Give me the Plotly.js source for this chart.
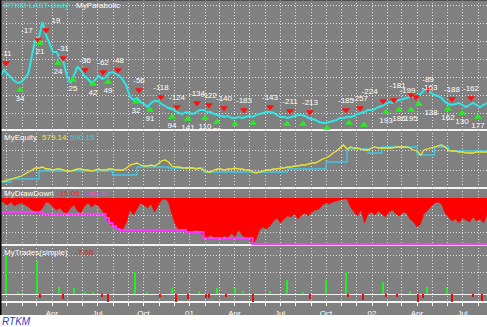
<!DOCTYPE html>
<html><head><meta charset="utf-8">
<script src="https://cdn.plot.ly/plotly-3.0.1.min.js"></script>
<style>html,body{margin:0;padding:0;background:#fff}#chart{width:487px;height:327px}</style>
</head><body><div id="chart"></div>
<script>
// ---------- DATA ----------
// weekly series start and step
const weekStart = '1999-12-20';
const weekStepMs = 7 * 86400000;

// RTKM price (weekly closes, chart units)
const price = [54,60,56,52,49,47,48,52,57,75,
  91,93,108,95,86,78,78,72,68,54,
  47,55,63,60,54,51,47,50,54,51,
  52,57,58,56,54,50,44,33,30,32,
  28,26,23,27,29,29,26,24,22,21,
  19,17,16,18,17,16,18,20,20,18,
  18,16,15,14,13,14,12,12,13,12,
  13,14,13,15,16,17,18,18,17,15,
  13,13,12,13,14,15,15,14,12,11,
  10,8,7,7,8,9,10,12,12,13,
  13,14,16,17,18,20,20,21,23,24,
  26,28,27,29,30,31,32,33,33,34,
  36,40,41,37,35,34,32,28,26,25,
  26,27,25,23,25,27,25,23,25,27];

// Parabolic sell signals (red) and buy signals (green)
const sellDates = ['1999-12-31','2000-03-04','2000-03-20','2000-04-23','2000-06-06','2000-07-12','2000-08-11','2000-09-22',
  '2000-11-05','2000-12-07','2001-01-16','2001-02-09','2001-03-11','2001-04-20','2001-06-11','2001-07-21','2001-08-30',
  '2001-11-10','2001-12-08','2002-01-23','2002-02-14','2002-03-20','2002-03-30','2002-04-23','2002-06-10','2002-07-18'];
const sellLevels = [67,90,100,72,60,58,60,40,33,23,27,25,22,20,23,19,18,20,22,29,30,35,33,41,31,32];
const sellLabels = ['-11','-17','19','-31','-36','-62','-48','-56','-118','-124','-134','-122','-140','-183','-143','-211','-213',
  '-185','-257','-224','-199','-181','-163','-89','-188','-162'];

const buyDates = ['2000-01-28','2000-03-08','2000-04-13','2000-05-13','2000-06-22','2000-07-22','2000-09-16','2000-10-14',
  '2000-11-27','2000-12-29','2001-02-01','2001-02-25','2001-04-02','2001-05-08','2001-07-15','2001-08-16','2001-10-03',
  '2001-11-16','2001-12-16','2002-01-29','2002-02-24','2002-03-20','2002-04-05','2002-06-02','2002-06-30','2002-08-01'];
const buyLevels = [40,87,67,50,46,48,28,20,13,11,12,8,6,7,6,6,2,7,5,18,20,20,26,21,17,13];
const buyLabels = ['34','21','24','25','42','49','32','91','94','141','110','70','','','','','','','219','193','186','195','138','162','130','177'];

// Equity (weekly) and closed-trade equity (steps)
const equity = [280,290,300,310,320,330,340,360,380,400,
  420,420,430,410,410,400,410,410,400,390,
  390,400,410,410,400,400,390,400,410,400,
  400,410,410,400,400,400,420,450,460,470,
  450,440,440,450,440,460,490,500,480,440,
  430,430,420,420,420,420,410,420,400,380,
  380,400,410,410,400,410,410,420,410,410,
  400,400,380,370,380,390,400,400,410,410,
  420,420,430,430,440,440,450,450,460,470,
  470,490,510,520,540,570,590,620,650,610,
  630,620,620,610,600,600,620,630,620,620,
  620,620,620,630,630,630,630,620,600,590,
  550,600,610,620,630,640,650,630,600,590,
  590,580,580,570,570,570,580,580,580,579.14];
const closedDates = ['1999-12-20','2000-01-10','2000-03-06','2000-07-31','2000-09-18','2000-11-20','2001-01-29','2001-07-16',
  '2001-10-01','2001-11-12','2001-12-24','2002-01-21','2002-04-01','2002-05-06','2002-06-03','2002-08-19'];
const closedEquity = [280,310,390,350,430,420,380,410,480,610,570,630,550,630,590.15,590.15];

// Drawdown % (weekly) and max drawdown steps
const drawdown = [-1.8,-4.4,-6.1,-3.5,-7.0,-5.3,-4.4,-6.1,-7.9,-10.5,
  -12.3,-12.3,-8.8,-3.5,-4.4,-7.9,-10.5,-8.8,-12.3,-13.2,
  -8.8,-6.1,-11.4,-13.2,-7.0,-4.4,-7.9,-5.3,-7.0,-10.5,
  -16.7,-21.9,-24.6,-26.3,-28.1,-27.2,-21.1,-10.5,-14.9,-9.7,
  -4.4,-6.1,-8.8,-5.3,-12.3,-7.0,-1.8,-0.9,-3.5,-14.9,
  -23.7,-28.1,-27.2,-29.8,-29.0,-29.8,-28.1,-29.8,-33.3,-35.1,
  -32.5,-35.1,-34.2,-35.1,-33.3,-35.1,-30.7,-34.2,-28.1,-32.5,
  -35.1,-34.2,-40.37,-36.9,-28.1,-25.5,-27.2,-24.6,-20.2,-17.6,
  -21.9,-18.4,-15.8,-16.7,-14.0,-18.4,-14.9,-13.2,-15.8,-12.3,
  -10.5,-9.7,-6.1,-4.4,-5.3,-3.5,-2.6,-1.8,-0.9,-0.9,
  -7.9,-12.3,-15.8,-10.5,-21.9,-14.0,-12.3,-14.9,-11.4,-14.0,
  -16.7,-12.3,-10.5,-14.0,-15.8,-12.3,-13.2,-18.4,-21.1,-25.5,
  -22.8,-14.0,-10.5,-7.0,-4.4,-3.5,-5.3,-13.2,-16.7,-20.2,
  -18.4,-21.9,-17.6,-19.3,-21.1,-16.7,-20.2,-18.4,-21.9,-15.05];
const maxDDDates = ['1999-12-20','2000-03-13','2000-07-17','2000-07-24','2000-07-31','2000-08-07','2000-08-14',
  '2000-12-25','2001-01-29','2001-05-07','2002-08-19'];
const maxDD = [-12.3,-14.0,-17.6,-21.9,-24.6,-27.2,-28.1,-29.8,-35.1,-40.37,-40.37];

// Trades (simple) results
const winDates = ['1999-12-31','2000-01-24','2000-03-02','2000-04-15','2000-05-15','2000-06-06','2000-06-22','2000-09-14',
  '2000-10-08','2000-11-27','2001-01-20','2001-02-25','2001-04-02','2001-04-18','2001-06-11','2001-07-15','2001-08-16',
  '2001-10-01','2001-11-10','2002-01-23','2002-03-18','2002-04-21','2002-05-31'];
const winVals = [39,2,33,7,6,2,2,22,2,6,3,6,6,3,3,14,2,14,22,12,3,7,6];
const lossDates = ['2000-03-08','2000-04-23','2000-07-10','2000-07-22','2000-11-03','2000-12-05','2000-12-29','2001-02-03',
  '2001-02-09','2001-03-15','2001-05-08','2001-08-30','2001-11-14','2001-12-14','2002-01-29','2002-02-20','2002-04-03',
  '2002-04-13','2002-06-10','2002-07-22','2002-08-09'];
const lossVals = [-4,-5,-3,-8,-3,-8,-5,-4,-4,-3,-8,-5,-3,-6,-3,-3,-8,-4,-8,-3,-7];

// Axis months
const monthTicks = ['2000-01-01','2000-02-01','2000-03-01','2000-04-01','2000-05-01','2000-06-01','2000-07-01','2000-08-01',
  '2000-09-01','2000-10-01','2000-11-01','2000-12-01','2001-01-01','2001-02-01','2001-03-01','2001-04-01','2001-05-01',
  '2001-06-01','2001-07-01','2001-08-01','2001-09-01','2001-10-01','2001-11-01','2001-12-01','2002-01-01','2002-02-01',
  '2002-03-01','2002-04-01','2002-05-01','2002-06-01','2002-07-01','2002-08-01'];
const monthText = ['','','','Apr','','','Jul','','','Oct','','','01','','','Apr','','','Jul','','','Oct','','','02','','','Apr','','','Jul',''];

// ---------- CHART ----------
const H = 302; // plot area height in px
const py = p => 1 - p / H;
const FONT = 'Liberation Sans, Arial, sans-serif';
const GRID = '#dcdcdc';

// label placement: nudge crowded neighbours apart
const sellPos = sellLabels.map(() => 'top center');
[1, 19, 21].forEach(i => sellPos[i] = 'top left');
[2, 20, 22].forEach(i => sellPos[i] = 'top right');
const buyPos = buyLabels.map(() => 'bottom center');
[22].forEach(i => buyPos[i] = 'bottom right');

const traces = [
  {type:'scatter', mode:'lines', x0:weekStart, dx:weekStepMs, y:price, xaxis:'x', yaxis:'y',
   line:{color:'#2fe6e6', width:2}, hoverinfo:'skip'},
  {type:'scatter', mode:'markers+text', x:sellDates, y:sellLevels, text:sellLabels, textposition:sellPos,
   textfont:{family:FONT, size:8, color:'#ffffff'}, marker:{symbol:'triangle-down', size:7, color:'#ff1010'},
   xaxis:'x', yaxis:'y', hoverinfo:'skip'},
  {type:'scatter', mode:'markers+text', x:buyDates, y:buyLevels, text:buyLabels, textposition:buyPos,
   textfont:{family:FONT, size:8, color:'#ffffff'}, marker:{symbol:'triangle-up', size:7, color:'#22ee22'},
   xaxis:'x', yaxis:'y', hoverinfo:'skip'},
  {type:'scatter', mode:'lines', x:closedDates, y:closedEquity, line:{color:'#3cc8e8', width:1.3, shape:'hv'},
   xaxis:'x', yaxis:'y2', hoverinfo:'skip'},
  {type:'scatter', mode:'lines', x0:weekStart, dx:weekStepMs, y:equity, line:{color:'#f0e830', width:1.3},
   xaxis:'x', yaxis:'y2', hoverinfo:'skip'},
  {type:'scatter', mode:'lines', x0:weekStart, dx:weekStepMs, y:drawdown, fill:'tozeroy', fillcolor:'#ff0000',
   line:{color:'#ff0000', width:0.5}, xaxis:'x', yaxis:'y3', hoverinfo:'skip'},
  {type:'scatter', mode:'lines', x:maxDDDates, y:maxDD, line:{color:'#ff38ff', width:2, shape:'hv'},
   xaxis:'x', yaxis:'y3', hoverinfo:'skip'},
  {type:'bar', x:winDates, y:winVals, width:4.5*86400000, marker:{color:'#22ee22', line:{width:0}},
   xaxis:'x', yaxis:'y4', hoverinfo:'skip'},
  {type:'bar', x:lossDates, y:lossVals, width:4.5*86400000, marker:{color:'#e01010', line:{width:0}},
   xaxis:'x', yaxis:'y4', hoverinfo:'skip'}
];

const yBase = {showgrid:true, gridcolor:GRID, griddash:'1px,2px', gridwidth:1, showticklabels:false,
  zeroline:false, ticks:'', showline:false, fixedrange:true};

function ann(text, x, yPx, color, extra) {
  return Object.assign({xref:'paper', yref:'paper', x:x/487, y:py(yPx), xanchor:'left', yanchor:'middle',
    text:text, showarrow:false, font:{family:FONT, size:8, color:color}}, extra || {});
}

const sepLine = (p) => ({type:'line', xref:'paper', yref:'paper', x0:0, x1:1, y0:py(p), y1:py(p),
  line:{color:'#f4f4f4', width:2}, layer:'below'});

const layout = {
  width:487, height:327,
  margin:{l:0, r:0, t:0, b:25, pad:0},
  paper_bgcolor:'#808080', plot_bgcolor:'#808080',
  showlegend:false, bargap:0, barmode:'overlay',
  xaxis:{type:'date', range:['1999-12-19','2002-08-19'], anchor:'y4', tickmode:'array', tickvals:monthTicks, ticktext:monthText,
    showgrid:true, gridcolor:GRID, griddash:'1px,2px', gridwidth:1, showline:false, zeroline:false,
    ticks:'outside', ticklen:3, tickcolor:'#ffffff', tickwidth:1,
    tickfont:{family:FONT, size:8, color:'#ffffff'}, fixedrange:true},
  yaxis: Object.assign({}, yBase, {domain:[py(130),1], range:[0,130], tick0:17, dtick:18}),
  yaxis2: Object.assign({}, yBase, {domain:[py(188),py(130)], range:[220,800], tickmode:'array', tickvals:[400,600]}),
  yaxis3: Object.assign({}, yBase, {domain:[py(245),py(188)], range:[-41.25,8.78], tickmode:'array', tickvals:[-15,-30]}),
  yaxis4: Object.assign({}, yBase, {domain:[0,py(245)], range:[-8,49], tickmode:'array', tickvals:[22,39],
    zeroline:true, zerolinecolor:'#f0f0f0', zerolinewidth:1}),
  shapes:[
    {type:'rect', xref:'paper', yref:'paper', x0:0, x1:1, y0:py(327), y1:py(315), fillcolor:'#ffffff', line:{width:0}, layer:'below'},
    sepLine(130), sepLine(188), sepLine(245), sepLine(302),
    {type:'line', xref:'paper', yref:'paper', x0:0.001, x1:0.001, y0:py(315), y1:1, line:{color:'#000000', width:2}, layer:'above'},
    {type:'line', xref:'paper', yref:'paper', x0:0, x1:1, y0:1, y1:1, line:{color:'#202020', width:1}, layer:'above'}
  ],
  annotations:[
    ann('RTKM LAST-Daily', 2, 6, '#2fe6e6'),
    ann('MyParabolic', 74, 6, '#ffffff'),
    ann('MyEquity', 2, 137, '#ffffff'),
    ann('579.14', 40, 137, '#f0e830'),
    ann('590.15', 68, 137, '#3cc8e8'),
    ann('MyDrawDown', 2, 194, '#ffffff'),
    ann('-15.05', 55, 194, '#ff2020'),
    ann('-40.37', 84, 194, '#ff40ff'),
    ann('MyTrades(simple)', 2, 252, '#ffffff'),
    ann('-7.00', 73, 252, '#d02020'),
    ann('<i>RTKM</i>', 0, 321, '#3838c8', {font:{family:FONT, size:10, color:'#3838c8'}})
  ]
};

Plotly.newPlot('chart', traces, layout, {staticPlot:true, displayModeBar:false});
</script>
</body></html>
